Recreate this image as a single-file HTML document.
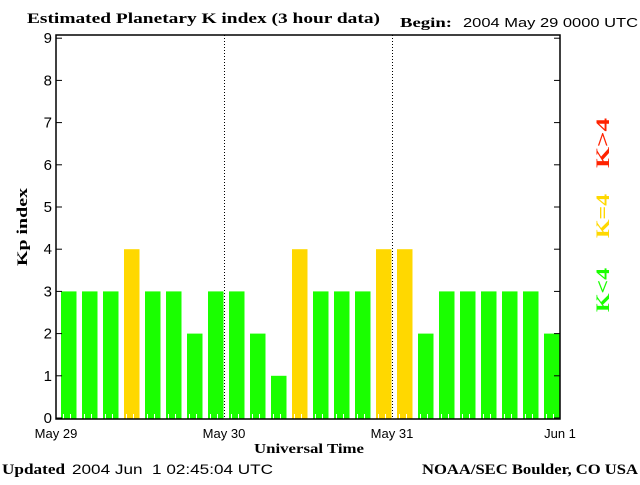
<!DOCTYPE html>
<html><head><meta charset="utf-8"><style>
body{margin:0;background:#fff;}
svg text{font-family:"Liberation Sans",sans-serif;}
.serif{font-family:"Liberation Serif",serif;font-weight:bold;}
</style></head><body>
<svg width="640" height="480" xmlns="http://www.w3.org/2000/svg">
<rect width="640" height="480" fill="#fff"/>
<text x="27" y="23" class="serif" font-size="15" textLength="353" lengthAdjust="spacingAndGlyphs">Estimated Planetary K index (3 hour data)</text>
<text x="400" y="27" class="serif" font-size="14" textLength="52" lengthAdjust="spacingAndGlyphs">Begin:</text>
<text x="463" y="27" font-size="13" textLength="175" lengthAdjust="spacingAndGlyphs">2004 May 29 0000 UTC</text>
<g id="plot"></g>
<text x="254" y="453" class="serif" font-size="14" textLength="110" lengthAdjust="spacingAndGlyphs">Universal Time</text>
<text transform="translate(27,227) rotate(-90)" text-anchor="middle" class="serif" font-size="15" textLength="78" lengthAdjust="spacingAndGlyphs">Kp index</text>
<text transform="translate(609,143) rotate(-90)" text-anchor="middle" class="serif" font-size="19" textLength="50" lengthAdjust="spacingAndGlyphs" fill="#ff2200">K&gt;4</text>
<text transform="translate(609,216) rotate(-90)" text-anchor="middle" class="serif" font-size="19" textLength="44" lengthAdjust="spacingAndGlyphs" fill="#ffd800">K=4</text>
<text transform="translate(609,290) rotate(-90)" text-anchor="middle" class="serif" font-size="19" textLength="44" lengthAdjust="spacingAndGlyphs" fill="#1aff00">K&lt;4</text>
<text x="2" y="474" class="serif" font-size="15" textLength="63" lengthAdjust="spacingAndGlyphs">Updated</text>
<text x="72" y="474" font-size="14" textLength="201" lengthAdjust="spacingAndGlyphs" xml:space="preserve">2004 Jun  1 02:45:04 UTC</text>
<text x="422" y="474" class="serif" font-size="15" textLength="216" lengthAdjust="spacingAndGlyphs">NOAA/SEC Boulder, CO USA</text>
</svg>
<script>
const kpValues=[3,3,3,4,3,3,2,3,3,2,1,4,3,3,3,4,4,2,3,3,3,3,3,2];
const yTicks=[0,1,2,3,4,5,6,7,8,9];
const dayLabels=["May 29","May 30","May 31","Jun 1"];
const NS="http://www.w3.org/2000/svg";
const g=document.getElementById('plot');
const L=56,R=560,T=35,B=419;
const y=v=>418-42.2*v;
const x=i=>L+(R-L)*i/kpValues.length;
function mk(t,a){const e=document.createElementNS(NS,t);for(const k in a)e.setAttribute(k,a[k]);g.appendChild(e);return e;}
const bw=(R-L)/kpValues.length;
kpValues.forEach((v,i)=>{
  const r=mk('rect',{x:x(i)+5,y:y(v),width:bw-5.5,height:B-y(v),fill:v>4?'#ff2200':(v==4?'#ffd800':'#1aff00')});
  
  
  for(let k=1;k<3;k++){const t=mk('line',{x1:x(i)+7*k+0.5,x2:x(i)+7*k+0.5,y1:B-5,y2:B,stroke:'#fff'});
    
    }
});
[1,2].forEach(d=>{const xx=L+(R-L)*d/3+0.5;const l=mk('line',{x1:xx,x2:xx,y1:T,y2:B,stroke:'#000','stroke-dasharray':'1,2'});
  
  });
const f=mk('rect',{x:L,y:T,width:R-L,height:B-T,fill:'none',stroke:'#000','stroke-width':1.5});


yTicks.forEach(v=>{
  const yy=y(v);
  mk('line',{x1:L,x2:L+6,y1:yy,y2:yy,stroke:'#000'});
  mk('line',{x1:R-6,x2:R,y1:yy,y2:yy,stroke:'#000'});
  const t=mk('text',{x:L-4,y:yy+5,'text-anchor':'end','font-size':15});t.textContent=v;
  
  
});
dayLabels.forEach((s,d)=>{const t=mk('text',{x:L+(R-L)*d/3,y:438,'text-anchor':'middle','font-size':13});t.textContent=s;
  
  });
</script>
</body></html>
